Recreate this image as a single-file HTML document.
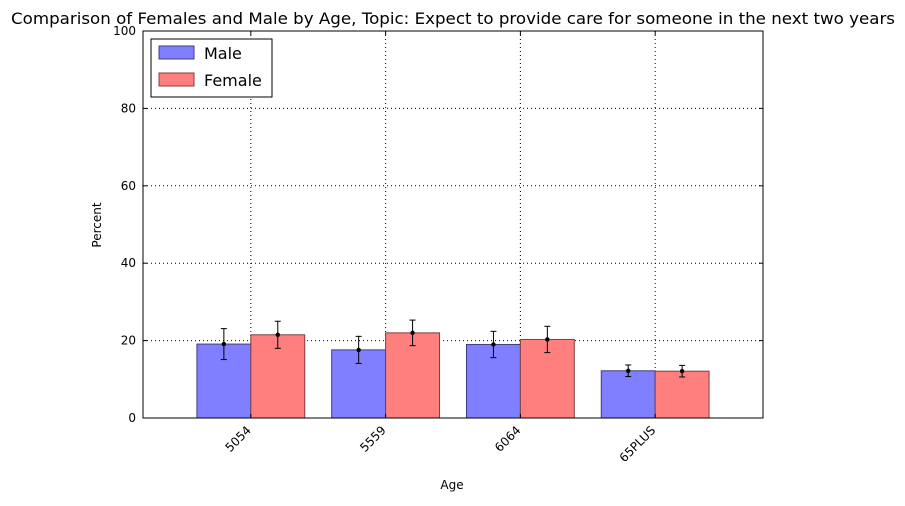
<!DOCTYPE html>
<html><head><meta charset="utf-8"><style>
body{margin:0;background:#fff;font-family:"DejaVu Sans",sans-serif;}
</style></head><body>
<svg id="chart" width="905" height="502" xmlns="http://www.w3.org/2000/svg" font-family="DejaVu Sans, Liberation Sans, sans-serif">
<rect width="905" height="502" fill="#fff"/>
<text x="453" y="24" font-size="16" text-anchor="middle" textLength="884" lengthAdjust="spacingAndGlyphs">Comparison of Females and Male by Age, Topic: Expect to provide care for someone in the next two years</text>
<g id="grid"></g><g id="bars"></g><g id="axes"></g>
<text transform="translate(101,225) rotate(-90)" font-size="12" text-anchor="middle">Percent</text>
<text x="452" y="489" font-size="12" text-anchor="middle">Age</text>
<g>
<rect x="151" y="39" width="121" height="58" fill="#fff" stroke="#000"/>
<rect x="159" y="46" width="35" height="13" fill="#7f7fff" stroke="#3f3f7f"/>
<text x="204" y="59" font-size="16">Male</text>
<rect x="159" y="73" width="35" height="13" fill="#ff7f7f" stroke="#7f3f3f"/>
<text x="204" y="86" font-size="16">Female</text>
</g>
</svg>
<script>
const categories=["5054","5559","6064","65PLUS"];
const maleValues=[19.1,17.6,19.0,12.2];
const femaleValues=[21.5,22.0,20.3,12.1];
const maleErr=[4.0,3.5,3.4,1.5];
const femaleErr=[3.5,3.3,3.4,1.5];
const yTicks=[0,20,40,60,80,100];
const L=143,R=763,T=31,B=418;
const ns="http://www.w3.org/2000/svg";
const x=v=>L+(v+0.8)/4.6*(R-L);
const y=v=>B-v/100*(B-T);
function mk(t,a,p){const e=document.createElementNS(ns,t);for(const k in a)e.setAttribute(k,a[k]);p.appendChild(e);return e;}
const grid=document.getElementById('grid'),bars=document.getElementById('bars'),axes=document.getElementById('axes');
yTicks.forEach(t=>{
 const g=mk('line',{x1:L,x2:R,y1:y(t),y2:y(t),stroke:'#000','stroke-dasharray':'1,3','stroke-width':1},grid);
 
 mk('line',{x1:L,x2:L+4,y1:y(t),y2:y(t),stroke:'#000'},axes);
 mk('line',{x1:R,x2:R-4,y1:y(t),y2:y(t),stroke:'#000'},axes);
 const tx=mk('text',{x:L-7,y:y(t)+4,'font-size':12,'text-anchor':'end'},axes);tx.textContent=t;
 
});
categories.forEach((c,i)=>{
 const g=mk('line',{x1:x(i),x2:x(i),y1:T,y2:B,stroke:'#000','stroke-dasharray':'1,3'},grid);
 
 [[maleValues,maleErr,-0.4,'#7f7fff','#3f3f7f','male'],[femaleValues,femaleErr,0,'#ff7f7f','#7f3f3f','female']].forEach(([vals,errs,off,f,s,n])=>{
  const b=mk('rect',{x:x(i+off),y:y(vals[i]),width:x(i+off+0.4)-x(i+off),height:B-y(vals[i]),fill:f,stroke:s},bars);
  
  const cx=x(i+off+0.2);
  mk('line',{x1:cx,x2:cx,y1:y(vals[i]+errs[i]),y2:y(vals[i]-errs[i]),stroke:'#000'},bars);
  mk('line',{x1:cx-3,x2:cx+3,y1:y(vals[i]+errs[i]),y2:y(vals[i]+errs[i]),stroke:'#000'},bars);
  mk('line',{x1:cx-3,x2:cx+3,y1:y(vals[i]-errs[i]),y2:y(vals[i]-errs[i]),stroke:'#000'},bars);
  const d=mk('circle',{cx:cx,cy:y(vals[i]),r:2.2,fill:'#000'},bars);
  
 });
 mk('line',{x1:x(i),x2:x(i),y1:B,y2:B-4,stroke:'#000'},axes);
 mk('line',{x1:x(i),x2:x(i),y1:T,y2:T+4,stroke:'#000'},axes);
 const tx=mk('text',{transform:`translate(${x(i)+1},${B+13}) rotate(-45)`,'font-size':12,'text-anchor':'end'},axes);tx.textContent=c;
 
});
const fr=mk('rect',{x:L,y:T,width:R-L,height:B-T,fill:'none',stroke:'#000'},axes);

</script>
</body></html>
